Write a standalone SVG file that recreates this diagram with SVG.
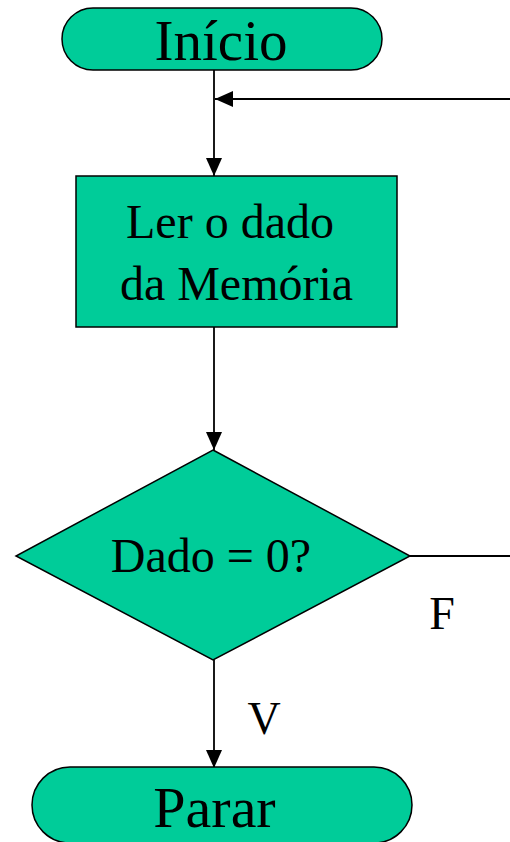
<svg xmlns="http://www.w3.org/2000/svg" width="510" height="842" viewBox="0 0 510 842">
<style>
.shape{fill:#00CC99;stroke:#000;stroke-width:1.5}
.lbl{font-family:"Liberation Serif","Times New Roman",serif;fill:#000;text-anchor:middle}
.edge{stroke:#000;stroke-width:1.8;fill:none}
</style>
<defs>
<marker id="arr" markerWidth="18" markerHeight="16" refX="18" refY="8" orient="auto" markerUnits="userSpaceOnUse">
<path d="M0,0 L18,8 L0,16 Z" fill="#000"/>
</marker>
</defs>
<rect width="510" height="842" fill="#fff"/>
<g id="connectors">
<line class="edge" x1="214" y1="70" x2="214" y2="176" marker-end="url(#arr)"/>
<line class="edge" x1="510" y1="99" x2="215" y2="99" marker-end="url(#arr)"/>
<line class="edge" x1="214" y1="327" x2="214" y2="450" marker-end="url(#arr)"/>
<line class="edge" x1="410" y1="556" x2="510" y2="556"/>
<line class="edge" x1="214" y1="660" x2="214" y2="768" marker-end="url(#arr)"/>
<text class="lbl" x="442" y="629" font-size="46">F</text>
<text class="lbl" x="264" y="734" font-size="46">V</text>
</g>
<g id="inicio">
<rect class="shape" x="62" y="8" width="320" height="62" rx="31" ry="31"/>
<text class="lbl" x="221" y="60" font-size="57">Início</text>
</g>
<g id="ler">
<rect class="shape" x="76" y="176" width="321" height="151"/>
<text class="lbl" x="230" y="238" font-size="48">Ler o dado</text>
<text class="lbl" x="236.5" y="300" font-size="48">da Memória</text>
</g>
<g id="decisao">
<polygon class="shape" points="213,450 410,556 213,660 16,556"/>
<text class="lbl" x="211" y="572" font-size="48">Dado = 0?</text>
</g>
<g id="parar">
<rect class="shape" x="32" y="767" width="380" height="76" rx="38" ry="38"/>
<text class="lbl" x="214.5" y="827" font-size="58">Parar</text>
</g>
</svg>
